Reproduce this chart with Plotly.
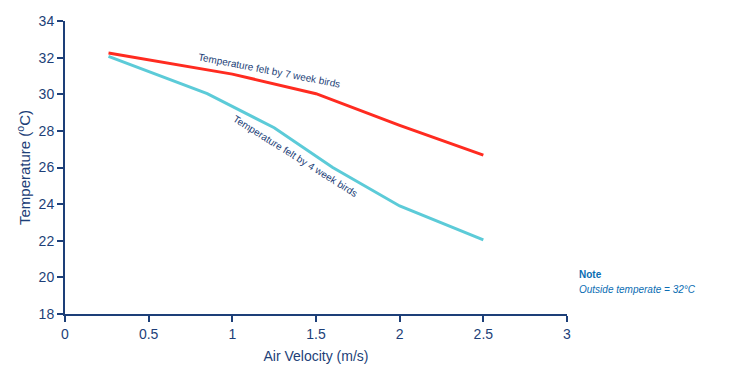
import plotly.graph_objects as go

# Data
x_7wk = [0.26, 1.0, 1.5, 2.0, 2.5]
t_7wk = [32.25, 31.1, 30.03, 28.3, 26.68]
x_4wk = [0.26, 0.85, 1.25, 1.6, 2.0, 2.5]
t_4wk = [32.07, 30.03, 28.17, 26.0, 23.9, 22.05]

x_ticks = [0, 0.5, 1, 1.5, 2, 2.5, 3]
x_tick_labels = ["0", "0.5", "1", "1.5", "2", "2.5", "3"]
y_ticks = [18, 20, 22, 24, 26, 28, 30, 32, 34]

NAVY = "#1d3f78"
FONT = "Liberation Sans, Arial, sans-serif"

fig = go.Figure()
fig.add_trace(go.Scatter(x=x_7wk, y=t_7wk, mode="lines",
                         line=dict(color="#ff2b20", width=3), showlegend=False))
fig.add_trace(go.Scatter(x=x_4wk, y=t_4wk, mode="lines",
                         line=dict(color="#5ccbd8", width=3), showlegend=False))

fig.update_layout(
    width=739, height=366,
    margin=dict(l=57, r=180, t=13, b=60),
    plot_bgcolor="white", paper_bgcolor="white",
    font=dict(family=FONT, color=NAVY, size=14),
    xaxis=dict(range=[0, 3], tickvals=x_ticks, ticktext=x_tick_labels, automargin=False,
               showgrid=False, zeroline=False, showline=True, linecolor=NAVY,
               linewidth=2, ticks="outside", ticklen=6, tickcolor=NAVY, tickwidth=2,
               tickfont=dict(size=14, color=NAVY),
               title=dict(text="Air Velocity (m/s)", font=dict(size=14, color=NAVY), standoff=10)),
    yaxis=dict(range=[18, 34], tickvals=y_ticks, automargin=False,
               showgrid=False, zeroline=False, showline=True, linecolor=NAVY,
               linewidth=2, ticks="outside", ticklen=6, tickcolor=NAVY, tickwidth=2,
               tickfont=dict(size=14, color=NAVY),
               title=dict(text="Temperature (<sup>o</sup>C)", font=dict(size=15, color=NAVY), standoff=4)),
)

fig.add_annotation(x=1.22, y=31.3, text="Temperature felt by 7 week birds",
                   showarrow=False, textangle=11, font=dict(size=10, color=NAVY, family=FONT))
fig.add_annotation(x=1.38, y=26.6, text="Temperature felt by 4 week birds",
                   showarrow=False, textangle=32, font=dict(size=10, color=NAVY, family=FONT))

fig.add_annotation(xref="paper", yref="paper", x=1.02, y=0.108, xanchor="left", yanchor="bottom",
                   text="<b>Note</b>", showarrow=False, align="left",
                   font=dict(size=10, color="#0a6db3", family=FONT))
fig.add_annotation(xref="paper", yref="paper", x=1.02, y=0.108, xanchor="left", yanchor="top",
                   text="<i>Outside temperate = 32°C</i>", showarrow=False, align="left",
                   font=dict(size=10, color="#0a6db3", family=FONT))

fig.write_html("out.html")
